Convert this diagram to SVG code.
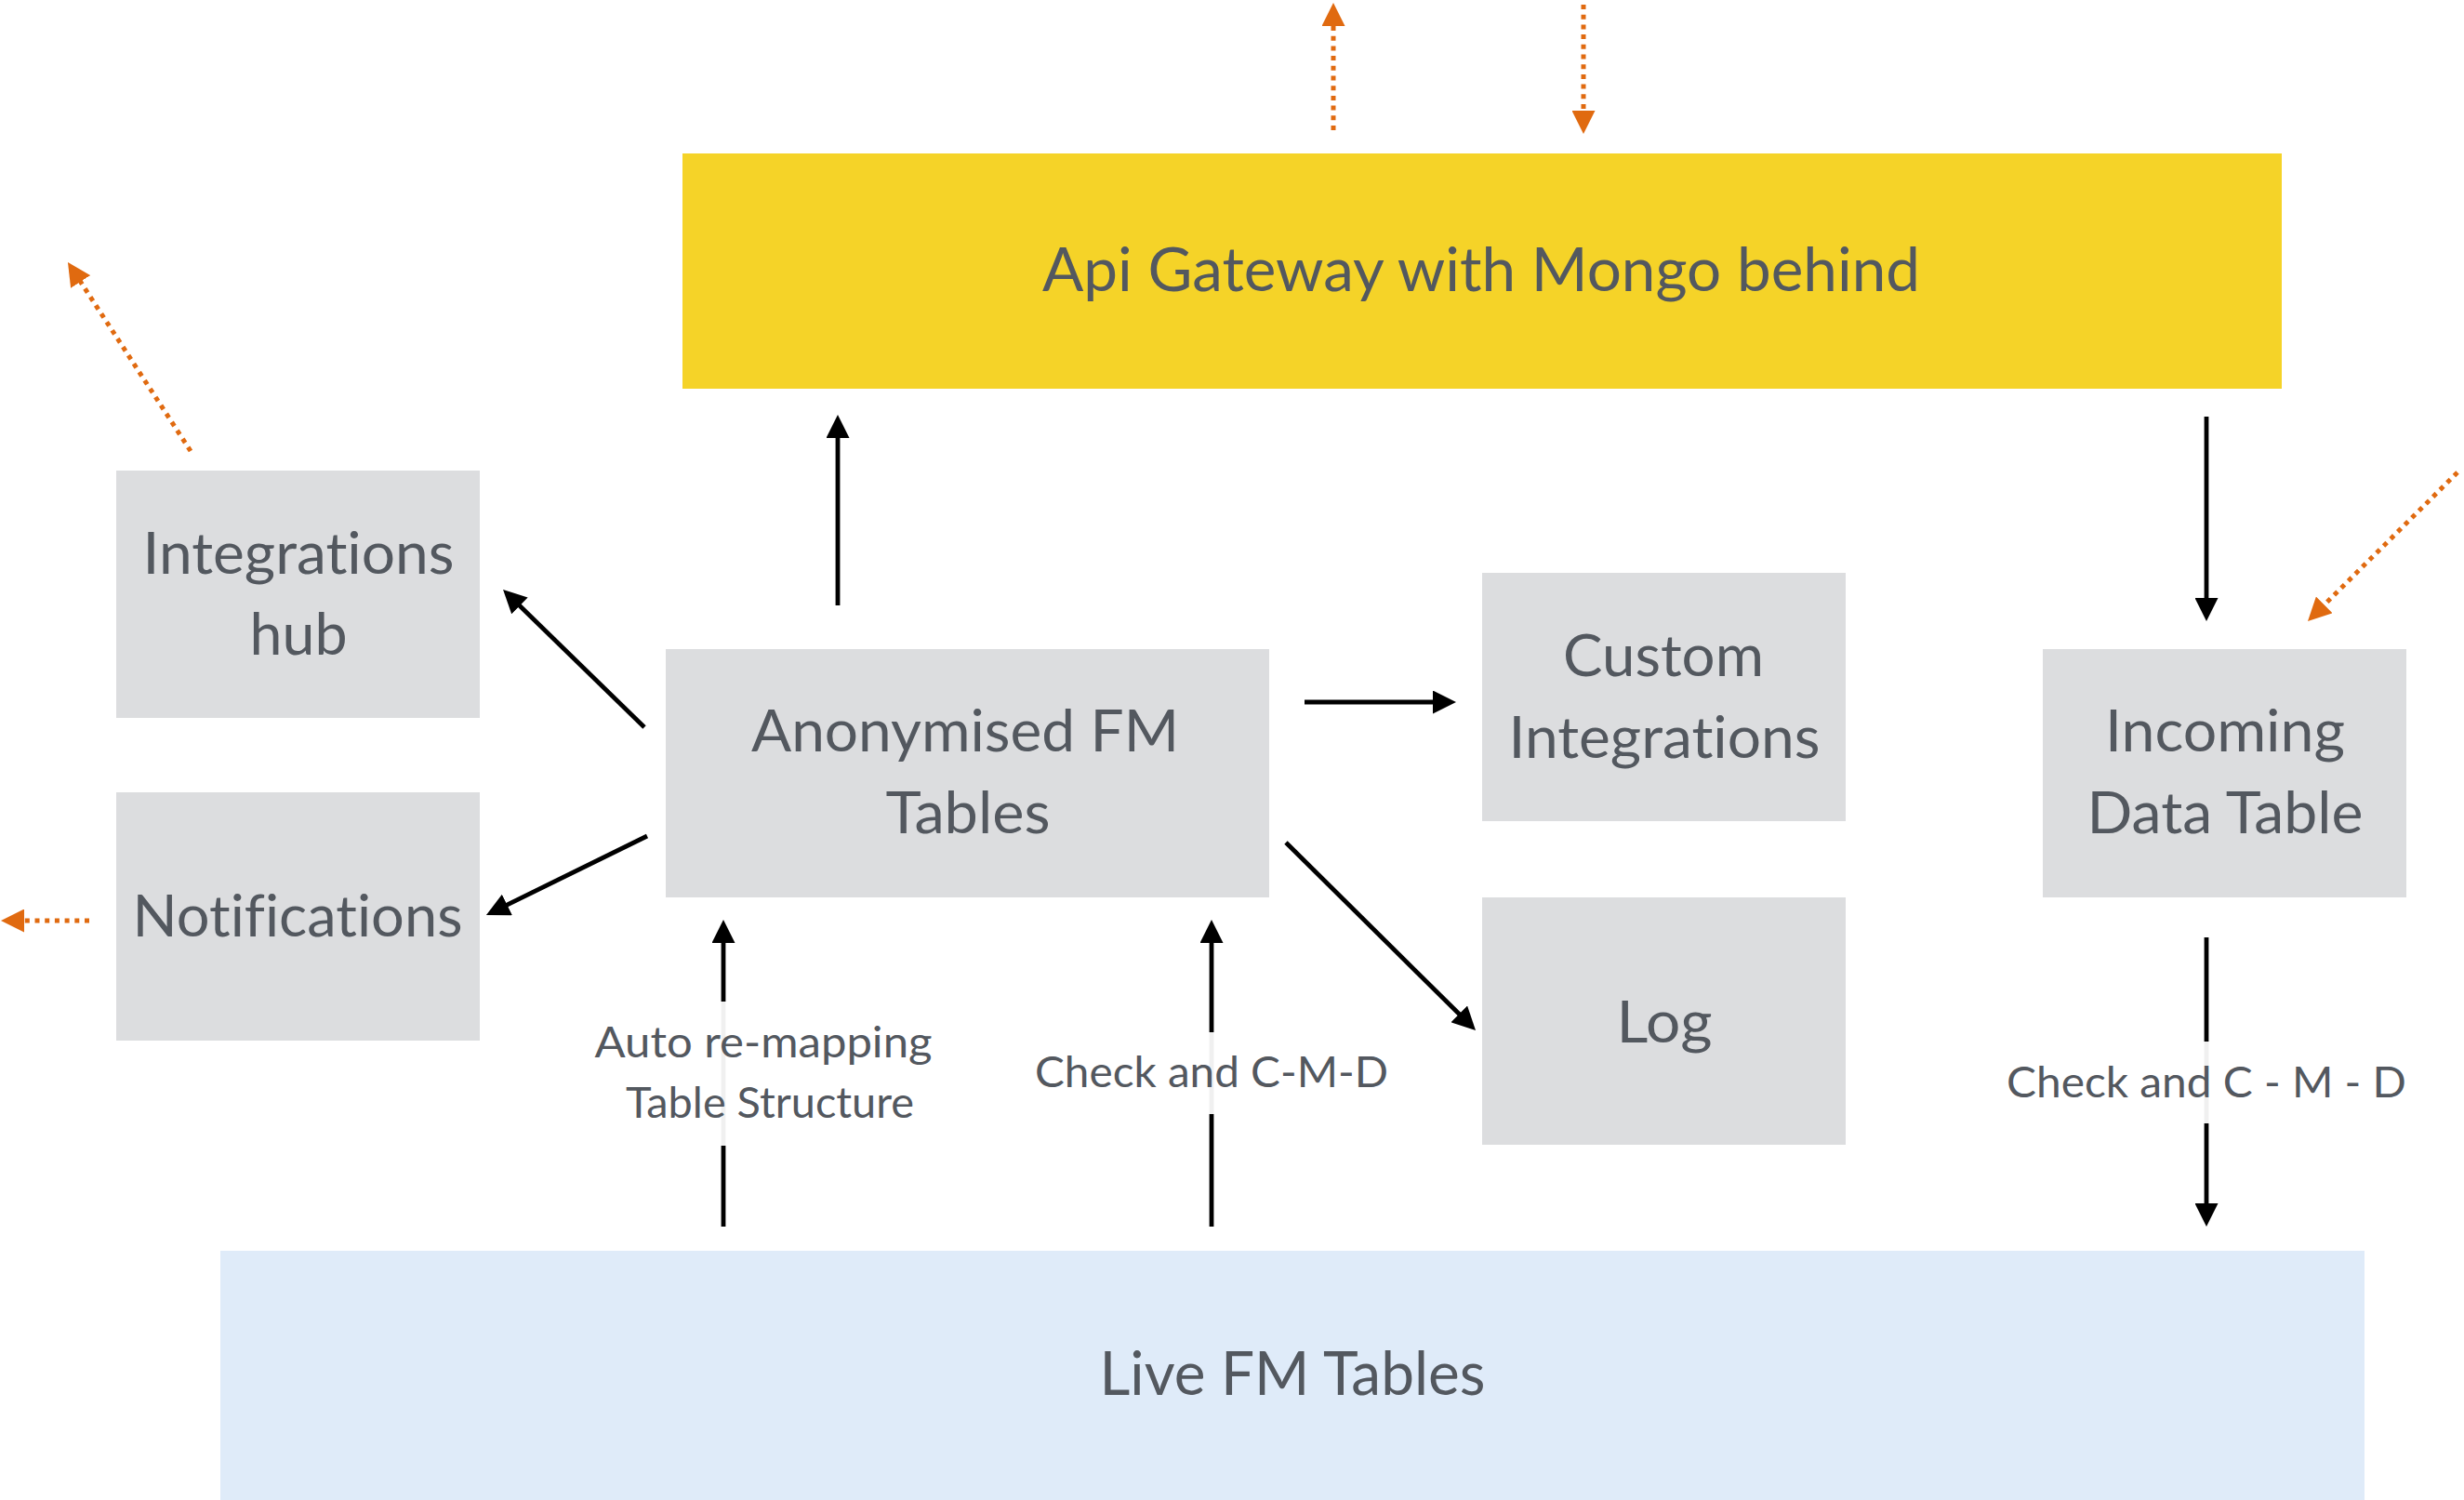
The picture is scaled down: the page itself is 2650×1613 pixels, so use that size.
<svg xmlns="http://www.w3.org/2000/svg" width="2650" height="1613" viewBox="0 0 2650 1613">
<defs>
<style>
.box{fill:#DCDDDF}
.t{font-family:Lato,"Open Sans","Liberation Sans",sans-serif;fill:#53585F;text-anchor:middle;font-variant-ligatures:none;font-feature-settings:"liga" 0,"clig" 0}
.big{font-size:62px}
.huge{font-size:65px}
.lbl{font-size:46px}
.c{fill:none;stroke:#000;stroke-width:4.8}
.o{fill:none;stroke:#E06A10;stroke-width:5;stroke-dasharray:5 5.7}
.lblbg{fill:#FFFFFF;fill-opacity:0.94}
</style>
<marker id="ab" viewBox="0 0 25 25" markerWidth="25" markerHeight="25" markerUnits="userSpaceOnUse" refX="2" refY="12.5" orient="auto">
<path d="M0,0 L25,12.5 L0,25 z" fill="#000"/>
</marker>
<marker id="ao" viewBox="0 0 25 25" markerWidth="25" markerHeight="25" markerUnits="userSpaceOnUse" refX="2" refY="12.5" orient="auto">
<path d="M0,0 L25,12.5 L0,25 z" fill="#E06A10"/>
</marker>
</defs>
<rect x="0" y="0" width="2650" height="1613" fill="#FFFFFF"/>

<g id="api-gateway">
<rect x="734" y="165" width="1720" height="253" fill="#F5D328"/>
<text class="t huge" x="1593" y="313" textLength="944" lengthAdjust="spacingAndGlyphs">Api Gateway with Mongo behind</text>
</g>

<g id="integrations-hub">
<rect class="box" x="125" y="506" width="391" height="266"/>
<text class="t big" x="321" y="617" textLength="335" lengthAdjust="spacingAndGlyphs">Integrations</text>
<text class="t big" x="321" y="704" textLength="105" lengthAdjust="spacingAndGlyphs">hub</text>
</g>

<g id="notifications">
<rect class="box" x="125" y="852" width="391" height="267"/>
<text class="t big" x="320" y="1007" textLength="355" lengthAdjust="spacingAndGlyphs">Notifications</text>
</g>

<g id="anonymised-fm-tables">
<rect class="box" x="716" y="698" width="649" height="267"/>
<text class="t big" x="1038" y="808" textLength="460" lengthAdjust="spacingAndGlyphs">Anonymised FM</text>
<text class="t big" x="1041" y="896" textLength="177" lengthAdjust="spacingAndGlyphs">Tables</text>
</g>

<g id="custom-integrations">
<rect class="box" x="1594" y="616" width="391" height="267"/>
<text class="t big" x="1789" y="727" textLength="216" lengthAdjust="spacingAndGlyphs">Custom</text>
<text class="t big" x="1790" y="815" textLength="335" lengthAdjust="spacingAndGlyphs">Integrations</text>
</g>

<g id="log">
<rect class="box" x="1594" y="965" width="391" height="266"/>
<text class="t big" x="1790" y="1121" textLength="103" lengthAdjust="spacingAndGlyphs">Log</text>
</g>

<g id="incoming-data-table">
<rect class="box" x="2197" y="698" width="391" height="267"/>
<text class="t big" x="2393" y="808" textLength="258" lengthAdjust="spacingAndGlyphs">Incoming</text>
<text class="t big" x="2393" y="896" textLength="297" lengthAdjust="spacingAndGlyphs">Data Table</text>
</g>

<g id="live-fm-tables">
<rect x="237" y="1345" width="2306" height="268" fill="#DFEBF9"/>
<text class="t huge" x="1390" y="1500" textLength="415" lengthAdjust="spacingAndGlyphs">Live FM Tables</text>
</g>

<g id="connectors">
<line class="c" x1="901" y1="651" x2="901" y2="469" marker-end="url(#ab)"/>
<line class="c" x1="2373" y1="448" x2="2373" y2="645" marker-end="url(#ab)"/>
<line class="c" x1="693" y1="782" x2="557.5" y2="650" marker-end="url(#ab)"/>
<line class="c" x1="696" y1="899" x2="543.6" y2="973.9" marker-end="url(#ab)"/>
<line class="c" x1="1403" y1="755" x2="1543" y2="755" marker-end="url(#ab)"/>
<line class="c" x1="1383" y1="906" x2="1570.7" y2="1091.8" marker-end="url(#ab)"/>
<line class="c" x1="778" y1="1319" x2="778" y2="1012" marker-end="url(#ab)"/>
<line class="c" x1="1303" y1="1319" x2="1303" y2="1012" marker-end="url(#ab)"/>
<line class="c" x1="2373" y1="1008" x2="2373" y2="1296" marker-end="url(#ab)"/>

<line class="o" x1="1434" y1="140" x2="1434" y2="26" marker-end="url(#ao)"/>
<line class="o" x1="1703" y1="5" x2="1703" y2="121" marker-end="url(#ao)"/>
<line class="o" x1="205" y1="485" x2="85.5" y2="301.3" marker-end="url(#ao)"/>
<line class="o" x1="96" y1="990" x2="24" y2="990" marker-end="url(#ao)"/>
<line class="o" x1="2643" y1="508" x2="2498.3" y2="651.8" marker-end="url(#ao)"/>

<rect class="lblbg" x="636" y="1077" width="372" height="155"/>
<text class="t lbl" x="821" y="1137" textLength="363" lengthAdjust="spacingAndGlyphs">Auto re-mapping</text>
<text class="t lbl" x="828" y="1202" textLength="310" lengthAdjust="spacingAndGlyphs">Table Structure</text>

<rect class="lblbg" x="1109" y="1110" width="388" height="88"/>
<text class="t lbl" x="1303" y="1169" textLength="380" lengthAdjust="spacingAndGlyphs">Check and C-M-D</text>

<rect class="lblbg" x="2154" y="1120" width="438" height="88"/>
<text class="t lbl" x="2373" y="1180" textLength="430" lengthAdjust="spacingAndGlyphs">Check and C - M - D</text>
</g>
</svg>
